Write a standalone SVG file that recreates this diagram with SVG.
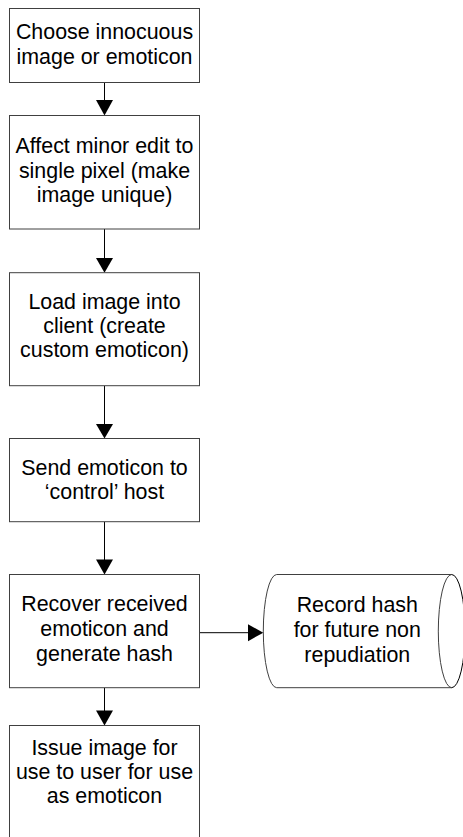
<svg xmlns="http://www.w3.org/2000/svg" width="463" height="837" viewBox="0 0 463 837">
<style>
.box{fill:#fff;stroke:#404040;stroke-width:1}
.lbl{font-family:"Liberation Sans",Arial,sans-serif;font-size:21.4px;fill:#000;text-anchor:middle}
.edge{stroke:#000;stroke-width:1;fill:none}
.head{fill:#000}
</style>
<rect width="463" height="837" fill="#fff"/>
<g id="connectors">
<line class="edge" x1="104.5" y1="82.5" x2="104.5" y2="101"/>
<polygon class="head" points="96,100 113,100 104.5,115.5"/>
<line class="edge" x1="104.5" y1="229" x2="104.5" y2="259"/>
<polygon class="head" points="96,258 113,258 104.5,272.7"/>
<line class="edge" x1="104.5" y1="385.7" x2="104.5" y2="425"/>
<polygon class="head" points="96,424 113,424 104.5,438.5"/>
<line class="edge" x1="104.5" y1="521.7" x2="104.5" y2="560"/>
<polygon class="head" points="96,559.5 113,559.5 104.5,574.5"/>
<line class="edge" x1="104.5" y1="687.7" x2="104.5" y2="711"/>
<polygon class="head" points="96,710.5 113,710.5 104.5,725.5"/>
<line class="edge" x1="199.5" y1="632.7" x2="249" y2="632.7"/>
<polygon class="head" points="248,624.2 248,641.2 263.3,632.7"/>
</g>
<g id="n1">
<rect class="box" x="9.5" y="8.5" width="190" height="74"/>
<text class="lbl" x="104.5" y="39">Choose innocuous</text>
<text class="lbl" x="104.5" y="64">image or emoticon</text>
</g>
<g id="n2">
<rect class="box" x="9.5" y="115.5" width="190" height="113.5"/>
<text class="lbl" x="104.5" y="153.3">Affect minor edit to</text>
<text class="lbl" x="104.5" y="177.5">single pixel (make</text>
<text class="lbl" x="104.5" y="201.7">image unique)</text>
</g>
<g id="n3">
<rect class="box" x="9.5" y="272.7" width="190" height="113"/>
<text class="lbl" x="104.5" y="309.3">Load image into</text>
<text class="lbl" x="104.5" y="333.3">client (create</text>
<text class="lbl" x="104.5" y="357.3">custom emoticon)</text>
</g>
<g id="n4">
<rect class="box" x="9.5" y="438.5" width="190" height="83.2"/>
<text class="lbl" x="104.5" y="475">Send emoticon to</text>
<text class="lbl" x="104.5" y="499.3">‘control’ host</text>
</g>
<g id="n5">
<rect class="box" x="9.5" y="574.5" width="190" height="113.2"/>
<text class="lbl" x="104.5" y="611">Recover received</text>
<text class="lbl" x="104.5" y="636">emoticon and</text>
<text class="lbl" x="104.5" y="661">generate hash</text>
</g>
<g id="n6">
<rect class="box" x="9.5" y="725.5" width="190" height="130"/>
<text class="lbl" x="104.5" y="755">Issue image for</text>
<text class="lbl" x="104.5" y="779.3">use to user for use</text>
<text class="lbl" x="104.5" y="803.3">as emoticon</text>
</g>
<g id="n7">
<path class="box" d="M276.7,574.5 L451.7,574.5 A13.4,56.6 0 0 0 451.7,687.7 L276.7,687.7 A13.4,56.6 0 0 1 276.7,574.5 Z"/>
<path class="edge" stroke="#404040" d="M451.7,574.5 A13.4,56.6 0 0 1 451.7,687.7"/>
<text class="lbl" x="357.3" y="611.7">Record hash</text>
<text class="lbl" x="357.3" y="636.7">for future non</text>
<text class="lbl" x="357.3" y="661.7">repudiation</text>
</g>
</svg>
